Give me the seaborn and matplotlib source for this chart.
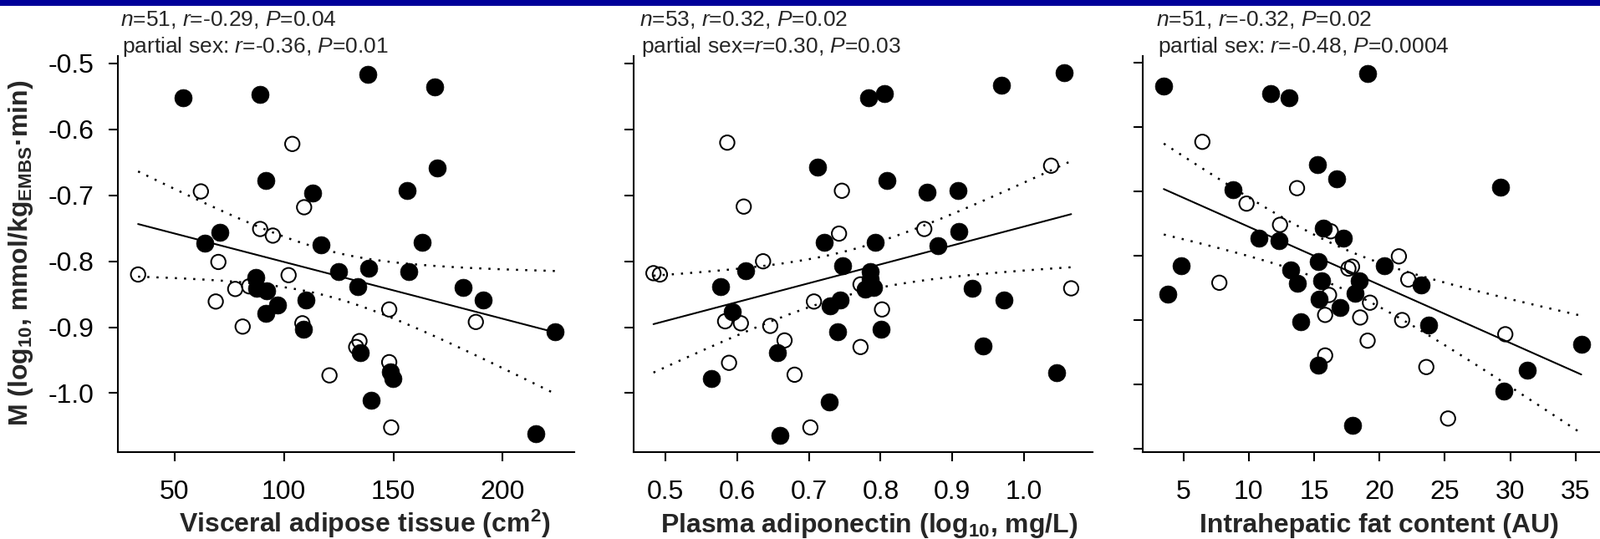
"""
Insulin sensitivity (M) against visceral fat, plasma adiponectin and
intrahepatic fat. Three scatter panels: filled = men, open = women, with
the pooled least-squares line and its 95 % confidence band (dotted).
Values were read off the published figure.
"""
import numpy as np
import matplotlib
matplotlib.use("Agg")
import matplotlib.pyplot as plt
from matplotlib.patches import Rectangle
import seaborn as sns

# ----------------------------------------------------------------------
# 0. Data
# ----------------------------------------------------------------------
# Panel A - visceral adipose tissue (cm2)
VAT_FILLED_X = [53.8, 89.1, 138.2, 169.0, 170.1, 91.8, 113.0, 156.2, 70.8, 63.8,
                116.9, 163.0, 124.9, 138.8, 157.0, 133.6, 181.8, 191.1, 110.0,
                224.1, 134.8, 148.5, 149.8, 139.9, 215.0, 87.0, 87.4, 92.2,
                96.9, 91.8, 109.0]
VAT_FILLED_Y = [-0.552, -0.547, -0.516, -0.535, -0.658, -0.678, -0.696, -0.693,
                -0.756, -0.772, -0.775, -0.771, -0.816, -0.810, -0.815, -0.839,
                -0.840, -0.859, -0.859, -0.907, -0.938, -0.968, -0.978, -1.011,
                -1.061, -0.824, -0.841, -0.845, -0.866, -0.879, -0.903]
VAT_OPEN_X = [103.8, 62.0, 109.2, 89.1, 94.9, 70.0, 33.3, 77.7, 84.1, 68.8,
              81.1, 102.1, 108.4, 148.1, 187.7, 134.5, 133.0, 148.1, 120.8, 149.0]
VAT_OPEN_Y = [-0.622, -0.694, -0.718, -0.751, -0.761, -0.801, -0.820, -0.842,
              -0.838, -0.861, -0.899, -0.821, -0.894, -0.873, -0.892, -0.921,
              -0.930, -0.953, -0.973, -1.052]

# Panel B - plasma adiponectin (log10, mg/L)
ADIPO_FILLED_X = [1.056, 0.969, 0.783, 0.805, 0.7125, 0.809, 0.865, 0.908, 0.909,
                  0.880, 0.721, 0.793, 0.612, 0.747, 0.786, 0.786, 0.779, 0.790,
                  0.577, 0.593, 0.729, 0.743, 0.740, 0.801, 0.656, 0.564, 0.728,
                  0.659, 0.928, 0.972, 0.943, 1.046]
ADIPO_FILLED_Y = [-0.514, -0.533, -0.552, -0.546, -0.657, -0.678, -0.695, -0.693,
                  -0.755, -0.776, -0.771, -0.771, -0.814, -0.807, -0.815, -0.827,
                  -0.842, -0.840, -0.838, -0.877, -0.868, -0.859, -0.907, -0.903,
                  -0.938, -0.978, -1.013, -1.064, -0.841, -0.859, -0.928, -0.969]
ADIPO_OPEN_X = [0.483, 0.492, 0.583, 0.605, 0.646, 0.666, 0.5885, 0.680, 0.702,
                0.707, 0.772, 0.772, 0.802, 1.066, 0.586, 0.609, 0.746, 0.742,
                0.861, 1.038, 0.636]
ADIPO_OPEN_Y = [-0.818, -0.820, -0.891, -0.894, -0.898, -0.920, -0.954, -0.972,
                -1.052, -0.861, -0.835, -0.930, -0.873, -0.841, -0.620, -0.717,
                -0.693, -0.758, -0.751, -0.655, -0.800]

# Panel C - intrahepatic fat content (AU)
IHL_FILLED_X = [3.50, 19.10, 11.69, 13.06, 15.27, 16.72, 29.24, 8.81, 10.76,
                12.34, 15.69, 17.22, 15.32, 20.35, 4.82, 13.19, 3.82, 13.72,
                15.59, 15.39, 18.45, 18.10, 16.97, 23.16, 13.97, 23.73, 35.43,
                31.30, 29.54, 15.32, 17.95]
IHL_FILLED_Y = [-0.536, -0.517, -0.548, -0.554, -0.659, -0.680, -0.694, -0.697,
                -0.773, -0.777, -0.757, -0.773, -0.809, -0.816, -0.816, -0.822,
                -0.860, -0.843, -0.839, -0.867, -0.839, -0.859, -0.881, -0.845,
                -0.903, -0.908, -0.938, -0.978, -1.011, -0.970, -1.063]
IHL_OPEN_X = [6.45, 13.69, 9.83, 12.39, 16.27, 21.48, 17.62, 17.90, 7.75, 16.14,
              15.84, 19.27, 18.52, 21.73, 22.20, 19.09, 15.84, 23.58, 29.62, 25.24]
IHL_OPEN_Y = [-0.623, -0.695, -0.719, -0.752, -0.762, -0.801, -0.820, -0.817,
              -0.842, -0.861, -0.892, -0.873, -0.896, -0.900, -0.837, -0.932,
              -0.955, -0.973, -0.922, -1.053]

# Tick values / labels
VAT_TICKS = [50, 100, 150, 200]
ADIPO_TICKS = [0.5, 0.6, 0.7, 0.8, 0.9, 1.0]
ADIPO_TICK_LABELS = ["0.5", "0.6", "0.7", "0.8", "0.9", "1.0"]
IHL_TICKS = [5, 10, 15, 20, 25, 30, 35]
M_TICKS = [-0.5, -0.6, -0.7, -0.8, -0.9, -1.0]
M_TICK_LABELS = ["-0.5", "-0.6", "-0.7", "-0.8", "-0.9", "-1.0"]
M_TICKS_C = [-0.5, -0.6, -0.7, -0.8, -0.9, -1.0, -1.1]

# Statistics text (two lines over each panel)
STATS_TOP = [r"$\mathit{n}$=51, $\mathit{r}$=-0.29, $\mathit{P}$=0.04",
             r"$\mathit{n}$=53, $\mathit{r}$=0.32, $\mathit{P}$=0.02",
             r"$\mathit{n}$=51, $\mathit{r}$=-0.32, $\mathit{P}$=0.02"]
STATS_PARTIAL = [r"partial sex: $\mathit{r}$=-0.36, $\mathit{P}$=0.01",
                 r"partial sex=$\mathit{r}$=0.30, $\mathit{P}$=0.03",
                 r"partial sex: $\mathit{r}$=-0.48, $\mathit{P}$=0.0004"]

X_LABELS = [r"Visceral adipose tissue (cm$^{\mathbf{2}}$)",
            r"Plasma adiponectin (log$_{\mathbf{10}}$, mg/L)",
            r"Intrahepatic fat content (AU)"]
Y_LABEL = r"M (log$_{\mathbf{10}}$, mmol/kg$_{\mathbf{EMBS}}$·min)"

# ----------------------------------------------------------------------
# 1. Style
# ----------------------------------------------------------------------
sns.set_style("ticks")
plt.rcParams.update({
    "font.family": ["Liberation Sans", "DejaVu Sans"],
    "mathtext.fontset": "custom",
    "mathtext.rm": "Liberation Sans",
    "mathtext.it": "Liberation Sans:italic",
    "mathtext.bf": "Liberation Sans:bold",
    "axes.unicode_minus": False,
    "axes.edgecolor": "black",
    "axes.linewidth": 1.5,
})

W, H = 1915, 645
fig = plt.figure(figsize=(W / 100, H / 100), dpi=100)
fig.patch.set_facecolor("white")

# thin navy band along the top edge
fig.add_artist(Rectangle((0, 1 - 7 / H), 1, 7 / H, transform=fig.transFigure,
                         facecolor="#000099", edgecolor="none"))

AX_TOP, AX_BOTTOM = 67, 540.7     # pixels from top


def add_axes_px(left, right):
    return fig.add_axes([left / W, 1 - AX_BOTTOM / H,
                         (right - left) / W, (AX_BOTTOM - AX_TOP) / H])


def conf_band(x, y, grid, t=2.01):
    x = np.asarray(x, float)
    y = np.asarray(y, float)
    n = len(x)
    b1, b0 = np.polyfit(x, y, 1)
    s = np.sqrt(((y - (b0 + b1 * x)) ** 2).sum() / (n - 2))
    sxx = ((x - x.mean()) ** 2).sum()
    se = s * np.sqrt(1.0 / n + (grid - x.mean()) ** 2 / sxx)
    fit = b0 + b1 * grid
    return fit - t * se, fit + t * se


panels = [
    dict(fx=VAT_FILLED_X, fy=VAT_FILLED_Y, ox=VAT_OPEN_X, oy=VAT_OPEN_Y,
         px=(140.6, 687.5), xlim=(23.9, 232.9), ylim=(-1.089, -0.4886),
         xticks=VAT_TICKS, xticklabels=[str(v) for v in VAT_TICKS],
         yticks=M_TICKS, ylabels=True, text_x=(144, 146), label_cx=0.541),
    dict(fx=ADIPO_FILLED_X, fy=ADIPO_FILLED_Y, ox=ADIPO_OPEN_X, oy=ADIPO_OPEN_Y,
         px=(758.3, 1307), xlim=(0.4557, 1.0959), ylim=(-1.089, -0.4886),
         xticks=ADIPO_TICKS, xticklabels=ADIPO_TICK_LABELS,
         yticks=M_TICKS, ylabels=False, text_x=(765, 767), label_cx=0.513),
    dict(fx=IHL_FILLED_X, fy=IHL_FILLED_Y, ox=IHL_OPEN_X, oy=IHL_OPEN_Y,
         px=(1367, 1913), xlim=(1.89, 36.8), ylim=(-1.1048, -0.4896),
         xticks=IHL_TICKS, xticklabels=[str(v) for v in IHL_TICKS],
         yticks=M_TICKS_C, ylabels=False, text_x=(1383.5, 1385.5), label_cx=0.518),
]

# ----------------------------------------------------------------------
# 2. Panels
# ----------------------------------------------------------------------
for i, p in enumerate(panels):
    ax = add_axes_px(*p["px"])
    x_all = np.concatenate([p["fx"], p["ox"]])
    y_all = np.concatenate([p["fy"], p["oy"]])

    # pooled regression line + dotted 95% band
    sns.regplot(x=x_all, y=y_all, ax=ax, scatter=False, ci=None,
                color="black", line_kws={"lw": 1.5, "zorder": 2})
    grid = np.linspace(x_all.min(), x_all.max(), 200)
    lo, hi = conf_band(x_all, y_all, grid)
    for band in (lo, hi):
        ax.plot(grid, band, color="black", lw=1.8, ls=(0, (1, 3.4)), zorder=2)

    sns.scatterplot(x=p["ox"], y=p["oy"], ax=ax, s=155, facecolor="none",
                    edgecolor="black", linewidth=1.45, zorder=3)
    sns.scatterplot(x=p["fx"], y=p["fy"], ax=ax, s=225, color="black",
                    edgecolor="black", linewidth=0.5, zorder=4)

    ax.set_xlim(*p["xlim"])
    ax.set_ylim(*p["ylim"])
    ax.set_xticks(p["xticks"])
    ax.set_xticklabels(p["xticklabels"])
    ax.set_yticks(p["yticks"])
    if p["ylabels"]:
        ax.set_yticklabels(M_TICK_LABELS)
    else:
        ax.tick_params(axis="y", labelleft=False)

    sns.despine(ax=ax)
    ax.tick_params(axis="both", direction="out", length=8, width=1.5,
                   color="black", labelsize=23, labelcolor="black")
    ax.tick_params(axis="x", pad=16)
    ax.tick_params(axis="y", pad=12.5)

    ax.set_xlabel(X_LABELS[i], fontsize=23, fontweight="bold")
    ax.xaxis.set_label_coords(p["label_cx"], -(637 - AX_BOTTOM) / (AX_BOTTOM - AX_TOP))
    ax.xaxis.label.set_va("baseline")
    ax.set_ylabel("")

    fig.text(p["text_x"][0] / W, 1 - 31 / H, STATS_TOP[i], fontsize=19,
             ha="left", va="baseline")
    fig.text(p["text_x"][1] / W, 1 - 63 / H, STATS_PARTIAL[i], fontsize=19,
             ha="left", va="baseline")

fig.text(25 / W, 1 - 303 / H, Y_LABEL, rotation=90, fontsize=23,
         fontweight="bold", ha="center", va="center")

fig.savefig("out.png", dpi=100, facecolor="white")
plt.close(fig)
